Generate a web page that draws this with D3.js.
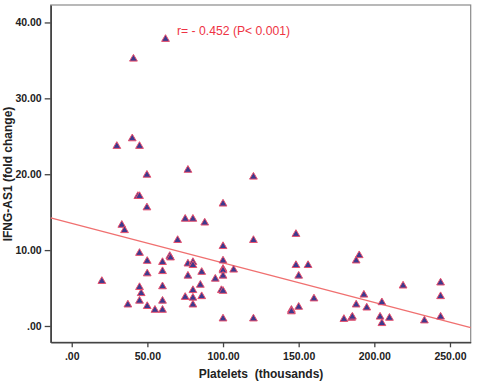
<!DOCTYPE html>
<html><head><meta charset="utf-8">
<script src="https://cdn.jsdelivr.net/npm/d3@7"></script>
<style>body{margin:0;background:#fff}svg{display:block}</style>
</head><body>
<script>
const platelets = [19.9,33.1,34.9,37.1,43.7,44.8,44.8,44.8,45.9,44.8,49.7,49.7,49.9,49.9,49.9,55,60,60,60,60,60,64.8,65.3,70,75,80.1,75,76.8,76.8,80.1,80.1,80.1,80.1,80.1,76.8,87.9,85.9,85,85.9,94.9,100,100,100,100,100,100,98.9,100,100,107,40.8,62,29.8,40,44.8,120.1,120.1,120.1,148.2,148.2,150,156.2,145.2,145.2,150,160.1,190,188,193.1,188,195,179.9,185,185.5,205,203.8,205,210,219,233.1,243.8,243.8,243.8];
const ifng = [5.9,13.3,12.6,2.8,17.1,17.1,9.6,5.1,4.3,3.3,19.9,15.6,8.55,6.9,2.6,2.1,8.4,7.2,5.2,3.3,2.1,9.2,9.0,11.3,14.1,14.1,3.8,6.6,8.2,8.4,8.0,4.7,3.7,2.8,20.55,13.6,7.1,5.4,3.9,6.2,16.1,10.5,8.6,7.5,7.3,6.6,4.7,4.6,0.96,7.4,35.2,37.8,23.7,24.7,23.7,19.65,11.3,0.96,12.1,8.0,6.6,8.0,2.1,1.9,2.5,3.6,9.3,8.6,4.1,2.8,2.4,0.9,1.05,1.2,3.1,1.2,0.35,1.05,5.3,0.7,5.7,3.9,1.2];
const xTicks = [0,50,100,150,200,250];
const yTicks = [0,10,20,30,40];
const fitIntercept = 13.53, fitSlope = -0.0521;
const annotation = "r= - 0.452 (P< 0.001)";
const xTitle = "Platelets  (thousands)";
const yTitle = "IFNG-AS1 (fold change)";

const W = 477, H = 383;
const L = 50.7, R = 470.7, T = 5, B = 342.3;
const x = d3.scaleLinear().domain([-13.9, 263.7]).range([L, R]);
const y = d3.scaleLinear().domain([-2.15, 42.3]).range([B, T]);
const fmt = v => v === 0 ? ".00" : v.toFixed(2);

const svg = d3.select("body").append("svg").attr("width", W).attr("height", H);
svg.append("rect").attr("x", L).attr("y", T).attr("width", R - L).attr("height", B - T)
  .attr("fill", "#fff").attr("stroke", "#8a8a8a").attr("stroke-width", 1.2);

const font = "Arial, 'Liberation Sans', sans-serif";
const xa = svg.append("g").attr("transform", `translate(0,${B})`)
  .call(d3.axisBottom(x).tickValues(xTicks).tickFormat(fmt).tickSize(5).tickSizeOuter(0));
const ya = svg.append("g").attr("transform", `translate(${L},0)`)
  .call(d3.axisLeft(y).tickValues(yTicks).tickFormat(fmt).tickSize(6).tickSizeOuter(0));
[xa, ya].forEach(a => {
  a.select(".domain").attr("stroke", "#444").attr("stroke-width", 1.6);
  a.selectAll(".tick line").attr("stroke", "#444").attr("stroke-width", 1.3);
  a.selectAll("text").attr("font-family", font).attr("font-weight", "bold")
    .attr("font-size", 10.5).attr("fill", "#222");
});
xa.selectAll("text").attr("dy", "0.9em");

// regression line
const x0 = x.domain()[0], x1 = x.domain()[1];
svg.append("line")
  .attr("x1", x(x0)).attr("y1", y(fitIntercept + fitSlope * x0))
  .attr("x2", x(x1)).attr("y2", y(fitIntercept + fitSlope * x1))
  .attr("stroke", "#f07070").attr("stroke-width", 1.3);

// points
const tri = d3.symbol().type(d3.symbolTriangle).size(26);
svg.append("g").selectAll("path").data(platelets.map((p, i) => [p, ifng[i]])).join("path")
  .attr("d", tri)
  .attr("transform", d => `translate(${x(d[0])},${y(d[1])})`)
  .attr("fill", "#3d3a8e").attr("stroke", "#e8506e").attr("stroke-width", 1);

svg.append("text").attr("x", 177).attr("y", 35).text(annotation)
  .attr("font-family", font).attr("font-size", 12.2).attr("fill", "#ee3344");

svg.append("text").attr("x", 261).attr("y", 378).attr("text-anchor", "middle").text(xTitle)
  .attr("font-family", font).attr("font-weight", "bold").attr("font-size", 12).attr("fill", "#222")
  .attr("xml:space", "preserve").style("white-space", "pre");
svg.append("text").attr("transform", "translate(12,174) rotate(-90)").attr("text-anchor", "middle").text(yTitle)
  .attr("font-family", font).attr("font-weight", "bold").attr("font-size", 12).attr("fill", "#222");
</script>
</body></html>
